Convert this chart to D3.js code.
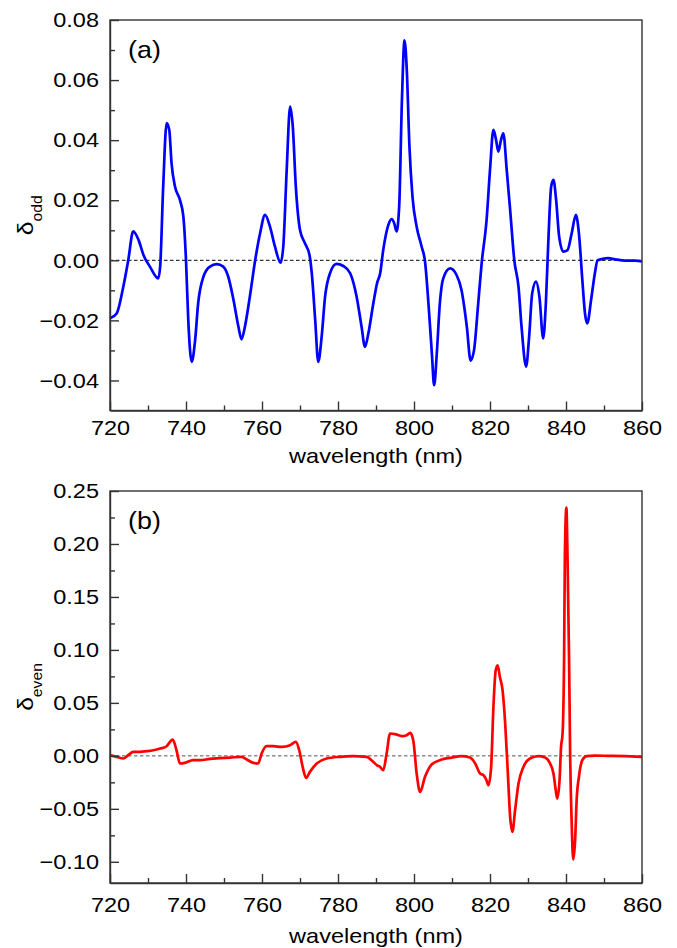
<!DOCTYPE html>
<html><head><meta charset="utf-8">
<script src="https://cdn.jsdelivr.net/npm/d3@7"></script>
<style>
html,body{margin:0;padding:0;background:#fff;}
svg{display:block;}
text{font-family:"Liberation Sans",Arial,Helvetica,sans-serif;fill:#000;}
</style></head>
<body>
<svg id="chart" width="677" height="948"></svg>
<script>
// ---- data ----
const wavelengthA = [720,721.75,723.5,724.8,726.1,727.5,728.8,730.5,732.7,733.2,734,734.9,735.6,736.2,737.1,738.4,739.3,740,740.6,741.5,742.4,743.2,744.6,746.3,748.1,749.8,751.1,752.5,753.8,754.6,755.5,756.8,758.2,759.5,760.8,762.1,763.4,764.9,765.6,766.5,767.4,768.1,768.9,770,771.3,772.5,773.1,774,774.8,775.7,776.6,777.9,779.6,781.4,783.2,784.9,786.2,787.1,788,789.3,790.3,791.1,791.9,793.25,794.1,794.8,795.4,796.1,796.8,797.5,798.1,798.8,799.6,800.7,802,802.9,803.8,804.7,805.3,806,806.8,807.7,809.5,811.2,812.5,813.9,814.9,815.8,816.9,817.8,819.1,820,820.9,821.6,822.2,822.9,823.5,824.4,825.3,826.4,827.5,828.3,829.5,830.3,831.1,832.1,833,834,834.7,835.4,836.1,836.7,837.4,838.2,839.3,840.4,841.5,842.6,843.4,844.3,845,845.6,846.6,847.6,848.3,849.4,851.1,852.9,854.7,856.4,858.2,860];
const deltaOdd = [-0.0193,-0.0177,-0.0088,0,0.0096,0.0068,0.0018,-0.0021,-0.006,-0.0021,0.0246,0.0457,0.0434,0.0323,0.0246,0.0201,0.0146,0,-0.020,-0.0338,-0.0266,-0.0143,-0.0054,-0.0021,-0.0013,-0.0021,-0.0054,-0.0132,-0.0221,-0.0263,-0.0221,-0.0121,0,0.009,0.0151,0.0112,0.0046,-0.0008,0.0046,0.0301,0.0512,0.0446,0.0246,0.0101,0.0057,0.0018,-0.0043,-0.0199,-0.0338,-0.0254,-0.0121,-0.0043,-0.0012,-0.0019,-0.0043,-0.0121,-0.0221,-0.0288,-0.0243,-0.0143,-0.0075,-0.0043,0.0034,0.0118,0.0137,0.0123,0.0096,0.0179,0.0523,0.0732,0.0634,0.0379,0.0212,0.0112,0.0046,-0.0004,-0.0143,-0.031,-0.0416,-0.031,-0.0143,-0.006,-0.0027,-0.0049,-0.0099,-0.0221,-0.0334,-0.0299,-0.0143,-0.001,0.0134,0.0301,0.0434,0.0401,0.0362,0.0401,0.0423,0.0301,0.0168,0,-0.0088,-0.0221,-0.0354,-0.0254,-0.011,-0.0071,-0.0121,-0.026,-0.0143,0.0079,0.0246,0.0268,0.0201,0.0079,0.0029,0.0034,0.009,0.0151,0.009,-0.0066,-0.0177,-0.021,-0.0132,-0.0043,0,0.0004,0.0007,0.0003,0,-0.0001,-0.0001,-0.0004];

const wavelengthB = [720,721.75,723.5,724.8,726.1,727.9,729.6,731.4,733.2,734.9,736.5,737.5,738.4,739.7,741.9,743.7,746.3,748.9,751.6,754.6,756,757.7,759,759.9,761.2,763,765.2,767.4,768.9,769.8,770.7,771.6,772.6,774.4,777,780.5,784,787.5,789.3,790.3,791.1,791.9,792.8,793.7,795,796.8,798.1,799,799.8,800.7,801.6,802.9,804.7,807.3,809.9,812.5,814.7,816.1,817.4,818.3,819,819.6,820.3,820.9,821.5,822,822.6,823.3,824,824.7,825.3,825.9,826.6,827.5,828.8,830.5,832.7,834.5,835.8,836.7,837.3,837.7,838.3,838.7,839.1,839.5,839.7,840.1,840.4,840.8,841.1,841.5,841.9,842.4,842.8,843.4,844.3,845.4,847.6,851.1,855.5,860];
const deltaEven = [0.0006,-0.0009,-0.0025,0.0006,0.0038,0.0038,0.0044,0.0053,0.0069,0.0091,0.0154,0.0053,-0.0072,-0.0066,-0.0041,-0.0041,-0.0028,-0.0022,-0.0016,-0.0009,-0.0035,-0.0066,-0.0072,0.0022,0.0091,0.0091,0.0085,0.0101,0.0132,0.0053,-0.0104,-0.0208,-0.0151,-0.0072,-0.0025,-0.0009,-0.0003,-0.0009,-0.0057,-0.009,-0.0104,-0.0135,0.0022,0.0211,0.0205,0.0186,0.0195,0.0217,0.0148,-0.0167,-0.034,-0.0198,-0.0079,-0.0035,-0.0016,-0.0003,-0.0016,-0.0072,-0.0167,-0.0182,-0.0223,-0.0277,-0.0104,0.0462,0.0808,0.0855,0.0745,0.0620,0.0305,-0.0167,-0.0576,-0.0717,-0.0513,-0.0261,-0.0104,-0.0025,-0.0003,-0.0016,-0.0072,-0.0167,-0.0324,-0.0403,-0.023,0.0085,0.0211,0.0934,0.1877,0.2343,0.1877,0.0934,-0.0009,-0.0638,-0.0978,-0.0795,-0.0418,-0.0198,-0.0041,-0.0003,0.0003,0,-0.0003,-0.0009];

const xMajorTicks = [720,740,760,780,800,820,840,860];
const xMinorTicks = [730,750,770,790,810,830,850];
const yMajorTicksA = [-0.04,-0.02,0.00,0.02,0.04,0.06,0.08];
const yMinorTicksA = [-0.03,-0.01,0.01,0.03,0.05,0.07];
const yMajorTicksB = [-0.10,-0.05,0.00,0.05,0.10,0.15,0.20,0.25];
const yMinorTicksB = [-0.075,-0.025,0.025,0.075,0.125,0.175,0.225];

const svg = d3.select("#chart");
const SX = 1.12; // horizontal glyph stretch of the reference typeface
const fmt = d3.format(".2f");

function panel(o){
  const g = svg.append("g");
  const x = d3.scaleLinear().domain([720,860]).range([o.left,o.right]);
  const y = d3.scaleLinear().domain(o.ydom).range([o.bottom,o.top]);

  // zero line
  g.append("line").attr("x1",o.left).attr("x2",o.right)
    .attr("y1",y(0)).attr("y2",y(0))
    .attr("stroke",o.zeroColor).attr("stroke-width",1).attr("stroke-dasharray","3.5,2.5");

  // curve
  const line = d3.line().x((d,i)=>x(o.xs[i])).y(d=>y(d)).curve(d3.curveMonotoneX);
  g.append("path").datum(o.ys).attr("d",line)
    .attr("fill","none").attr("stroke",o.color).attr("stroke-width",2.7)
    .attr("stroke-linejoin","round");

  // frame (top/right)
  g.append("rect").attr("x",o.left).attr("y",o.top)
    .attr("width",o.right-o.left).attr("height",o.bottom-o.top)
    .attr("fill","none").attr("stroke","#333").attr("stroke-width",1.4);

  // axes
  const ax = g.append("g").attr("transform",`translate(0,${o.bottom})`)
    .call(d3.axisBottom(x).tickValues(xMajorTicks).tickSizeInner(-9).tickSizeOuter(0).tickPadding(o.xPad).tickFormat(d3.format("d")));
  g.append("g").attr("transform",`translate(0,${o.bottom})`)
    .call(d3.axisBottom(x).tickValues(xMinorTicks).tickSizeInner(-5).tickSizeOuter(0).tickFormat(""))
    .select(".domain").remove();
  const ay = g.append("g").attr("transform",`translate(${o.left},0)`)
    .call(d3.axisLeft(y).tickValues(o.yMajor).tickSizeInner(-9).tickSizeOuter(0).tickPadding(11).tickFormat(fmt));
  g.append("g").attr("transform",`translate(${o.left},0)`)
    .call(d3.axisLeft(y).tickValues(o.yMinor).tickSizeInner(-5).tickSizeOuter(0).tickFormat(""))
    .select(".domain").remove();

  g.selectAll(".domain").attr("stroke","#333").attr("stroke-width",1.4);
  g.selectAll(".tick line").attr("stroke","#333").attr("stroke-width",1.4);
  ax.selectAll(".tick text").attr("font-size",21).attr("fill","#000")
    .attr("font-family",'"Liberation Sans",Arial,sans-serif')
    .attr("transform",`scale(${SX},1)`);
  ay.selectAll(".tick text").attr("font-size",21).attr("fill","#000")
    .attr("font-family",'"Liberation Sans",Arial,sans-serif')
    .attr("x",-11/SX).attr("transform",`scale(${SX},1)`);

  // x title
  g.append("text").attr("text-anchor","middle").attr("font-size",21)
    .attr("transform",`translate(${(o.left+o.right)/2},${o.titleY}) scale(${SX},1)`)
    .text("wavelength (nm)");

  // y title
  const yt = g.append("text").attr("text-anchor","middle")
    .attr("transform",`translate(33,${(o.top+o.bottom)/2}) rotate(-90) scale(${SX},1)`);
  yt.append("tspan").attr("font-size",22).text("δ");
  yt.append("tspan").attr("font-size",14).attr("dy",9).text(o.sub);

  // panel tag
  g.append("text").attr("font-size",24)
    .attr("transform",`translate(${o.left+18},${o.top+38}) scale(${SX},1)`)
    .text(o.tag);
}

panel({left:110,right:642,top:20,bottom:410.5,ydom:[-0.05,0.08],
  xs:wavelengthA,ys:deltaOdd,color:"#0000ff",zeroColor:"#000",
  yMajor:yMajorTicksA,yMinor:yMinorTicksA,xPad:10,titleY:463,sub:"odd",tag:"(a)"});
panel({left:110,right:642,top:491,bottom:883,ydom:[-0.12,0.25],
  xs:wavelengthB,ys:deltaEven,color:"#ff0000",zeroColor:"#555",
  yMajor:yMajorTicksB,yMinor:yMinorTicksB,xPad:14,titleY:942.5,sub:"even",tag:"(b)"});
</script>
</body></html>
